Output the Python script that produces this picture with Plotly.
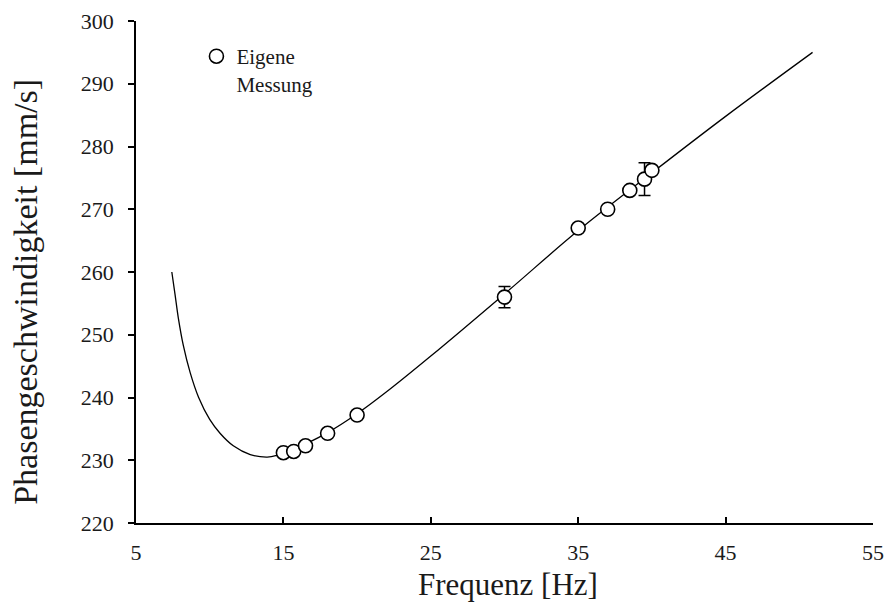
import plotly.graph_objects as go

# Measured phase velocities (own measurement)
freq_meas = [15.0, 15.7, 16.5, 18.0, 20.0, 30.0, 35.0, 37.0, 38.5, 39.5, 40.0]
vel_meas = [231.2, 231.4, 232.3, 234.3, 237.2, 256.0, 267.0, 270.0, 273.0, 274.8, 276.2]
vel_err = [0.0, 0.0, 0.0, 0.0, 0.0, 1.7, 0.0, 0.0, 0.0, 2.6, 0.0]

# Theoretical dispersion curve
freq_curve = [7.43, 7.65, 7.87, 8.21, 8.67, 9.25, 10.0, 10.7, 11.6, 12.75, 13.9, 14.6, 15.3, 16.5,
              18.0, 20.0, 22.0, 25.0, 30.0, 35.0, 40.0, 45.0, 50.9]
vel_curve = [260.0, 256.4, 252.7, 248.3, 244.0, 240.0, 236.5, 234.3, 232.3, 230.9, 230.5, 230.8, 231.4, 232.6,
             234.4, 237.4, 240.9, 246.6, 256.5, 266.6, 275.8, 284.8, 295.0]

x_ticks = [5, 15, 25, 35, 45, 55]
y_ticks = [220, 230, 240, 250, 260, 270, 280, 290, 300]

FONT = "Liberation Serif, Times New Roman, DejaVu Serif, serif"
INK = "#1a1a1a"

fig = go.Figure()

fig.add_trace(go.Scatter(
    x=freq_curve, y=vel_curve, mode="lines",
    line=dict(color="black", width=1.3, shape="spline", smoothing=1.0),
    showlegend=False, hoverinfo="skip",
))

fig.add_trace(go.Scatter(
    x=freq_meas, y=vel_meas, mode="markers",
    name="Eigene<br>Messung",
    marker=dict(symbol="circle", size=14, color="white",
                line=dict(color="black", width=1.6)),
    error_y=dict(type="data", array=vel_err, visible=True,
                 color="black", thickness=1.5, width=6),
))

# Axis titles as annotations for free placement
fig.add_annotation(
    text="Frequenz [Hz]", xref="paper", yref="paper",
    x=0.505, y=-0.122, xanchor="center", yanchor="middle", showarrow=False,
    font=dict(family=FONT, size=31, color=INK),
)
fig.add_annotation(
    text="Phasengeschwindigkeit [mm/s]", xref="paper", yref="paper",
    x=-0.151, y=0.46, xanchor="center", yanchor="middle", showarrow=False,
    textangle=-90, font=dict(family=FONT, size=34, color=INK),
)

fig.update_layout(
    width=885, height=606,
    margin=dict(l=136, r=12, t=21, b=83),
    paper_bgcolor="white", plot_bgcolor="white",
    font=dict(family=FONT, color=INK, size=22),
    showlegend=True,
    legend=dict(
        x=0.082, y=0.97, xanchor="left", yanchor="top",
        bgcolor="rgba(0,0,0,0)", font=dict(family=FONT, size=21, color=INK),
        valign="top", itemwidth=30,
    ),
    xaxis=dict(
        range=[5, 55], tickvals=x_ticks, ticktext=[str(v) for v in x_ticks],
        automargin=False,
        showgrid=False, zeroline=False, showline=True, linecolor="black", linewidth=1.5,
        ticks="inside", ticklen=6, tickwidth=1.5, tickcolor="black",
        ticklabelstandoff=9,
        tickfont=dict(family=FONT, size=22, color=INK),
    ),
    yaxis=dict(
        range=[220, 300], tickvals=y_ticks, ticktext=[str(v) for v in y_ticks],
        automargin=False,
        showgrid=False, zeroline=False, showline=True, linecolor="black", linewidth=1.5,
        ticks="outside", ticklen=6, tickwidth=1.5, tickcolor="black",
        ticklabelstandoff=10,
        tickfont=dict(family=FONT, size=22, color=INK),
    ),
)

fig.write_html("out.html")
